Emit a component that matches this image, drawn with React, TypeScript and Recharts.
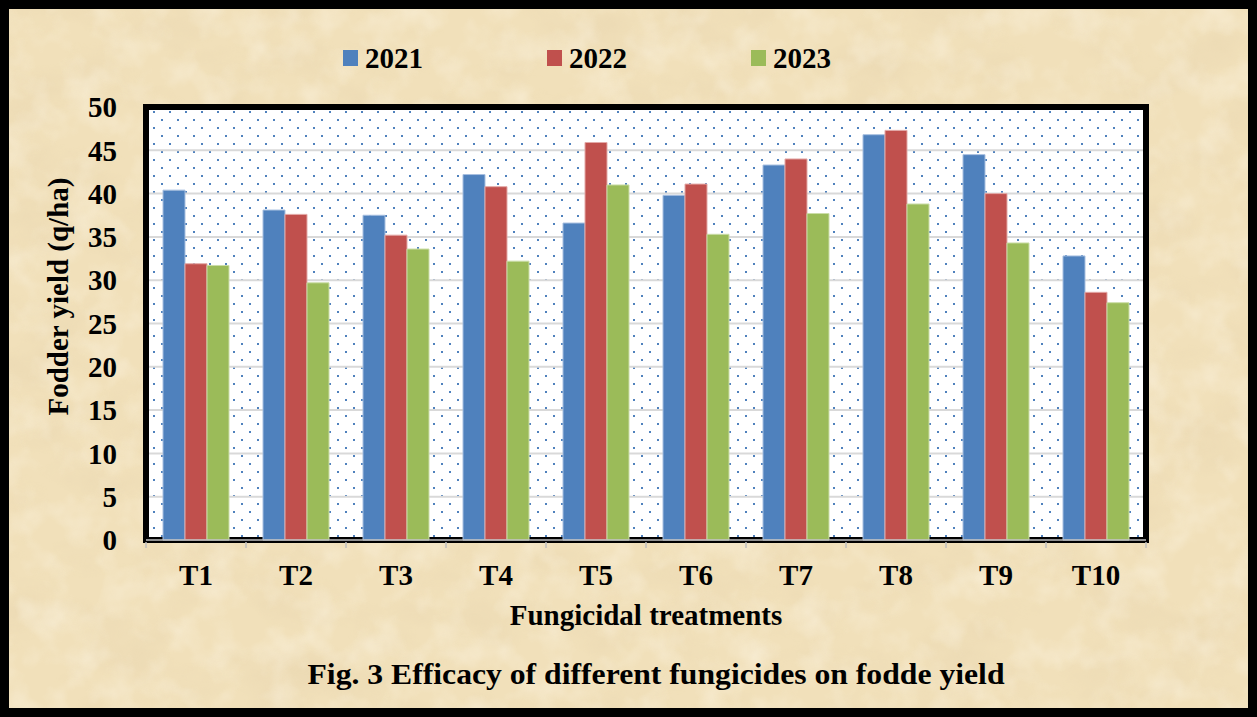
import React from 'react';
import { BarChart, Bar, XAxis, YAxis, CartesianGrid, ReferenceArea } from 'recharts';

const categories = ['T1', 'T2', 'T3', 'T4', 'T5', 'T6', 'T7', 'T8', 'T9', 'T10'];
const seriesNames = ['2021', '2022', '2023'];
const yield2021 = [40.4, 38.1, 37.5, 42.2, 36.6, 39.8, 43.3, 46.8, 44.5, 32.8];
const yield2022 = [31.9, 37.6, 35.2, 40.8, 45.9, 41.1, 44.0, 47.3, 40.0, 28.6];
const yield2023 = [31.7, 29.7, 33.6, 32.2, 41.0, 35.3, 37.7, 38.8, 34.3, 27.4];
const yTicks = [0, 5, 10, 15, 20, 25, 30, 35, 40, 45, 50];
const colors = ['#4F81BD', '#C0504D', '#9BBB59'];
const strokes = ['#A7BFE0', '#E3A9A7', '#CBDDA8'];
const yLabel = 'Fodder yield (q/ha)';
const xLabel = 'Fungicidal treatments';
const title = 'Fig. 3 Efficacy of different fungicides on fodde yield';

const seriesValues = [yield2021, yield2022, yield2023];
const data = categories.map((c, i) => {
  const row: Record<string, string | number> = { name: c };
  seriesNames.forEach((s, k) => {
    row[s] = seriesValues[k][i];
  });
  return row;
});

const FONT = "'Liberation Serif', 'Times New Roman', serif";

const XTick = (props: any) => {
  const { x, y, payload, index } = props;
  const off = payload?.offset ?? 50;
  return (
    <g>
      <line x1={x - off} x2={x - off} y1={y - 6} y2={y} stroke="#BFBFBF" strokeWidth={1.5} />
      {index === categories.length - 1 && (
        <line x1={x + off} x2={x + off} y1={y - 6} y2={y} stroke="#BFBFBF" strokeWidth={1.5} />
      )}
      <text x={x} y={y + 37} textAnchor="middle" fontFamily={FONT} fontWeight="bold" fontSize={29} fill="#000">
        {payload.value}
      </text>
    </g>
  );
};

export default function App() {
  return (
    <div style={{ position: 'absolute', left: 0, top: 0, width: 1257, height: 717, overflow: 'hidden', background: '#F1E0BA' }}>
      <svg width={1257} height={717} style={{ position: 'absolute', left: 0, top: 0 }}>
        <defs>
          <filter id="parchDark" x="0" y="0" width="100%" height="100%">
            <feTurbulence type="fractalNoise" baseFrequency="0.012 0.02" numOctaves={4} seed={7} />
            <feColorMatrix type="matrix" values="0 0 0 0 0.72  0 0 0 0 0.58  0 0 0 0 0.36  1.4 0 0 0 -0.62" />
          </filter>
          <filter id="parchLight" x="0" y="0" width="100%" height="100%">
            <feTurbulence type="fractalNoise" baseFrequency="0.03" numOctaves={3} seed={21} />
            <feColorMatrix type="matrix" values="0 0 0 0 1  0 0 0 0 0.96  0 0 0 0 0.86  1.4 0 0 0 -0.6" />
          </filter>
        </defs>
        <rect x={0} y={0} width={1257} height={717} fill="#F1E0BA" />
        <rect x={0} y={0} width={1257} height={717} filter="url(#parchDark)" opacity={0.35} />
        <rect x={0} y={0} width={1257} height={717} filter="url(#parchLight)" opacity={0.55} />
      </svg>

      <div style={{ position: 'absolute', left: 0, top: 0 }}>
        <BarChart
          width={1257}
          height={717}
          data={data}
          margin={{ top: 107, right: 111, bottom: 117, left: 86 }}
          barGap={0}
          barCategoryGap="17%"
        >
          <defs>
            <pattern id="dots" x={9} y={15} width={16} height={16} patternUnits="userSpaceOnUse">
              <rect x={0} y={0} width={16} height={16} fill="#FFFFFF" />
              <rect x={0} y={0} width={2} height={2} fill="#4F81BD" />
              <rect x={8} y={8} width={2} height={2} fill="#4F81BD" />
            </pattern>
          </defs>
          <CartesianGrid vertical={false} stroke="#D9D9D9" strokeWidth={2} fill="url(#dots)" fillOpacity={1} />
          <XAxis
            dataKey="name"
            height={60}
            axisLine={{ stroke: '#BFBFBF', strokeWidth: 1.5 }}
            tickLine={false}
            tickSize={6}
            tick={<XTick />}
            interval={0}
            label={{ value: xLabel, position: 'bottom', offset: 4, fontSize: 29, fontWeight: 'bold', fill: '#000', fontFamily: FONT }}
          />
          <YAxis
            domain={[0, 50]}
            ticks={yTicks}
            width={60}
            axisLine={false}
            tickLine={false}
            tickSize={0}
            tickMargin={29}
            interval={0}
            tick={{ fontSize: 29, fontWeight: 'bold', fill: '#000', fontFamily: FONT }}
            label={{
              content: (props: any) => {
                const vb = props.viewBox || { x: 86, y: 107, width: 60, height: 433 };
                const cx = vb.x - 18;
                const cy = vb.y + vb.height / 2 - 27;
                return (
                  <text
                    x={cx}
                    y={cy}
                    transform={`rotate(-90 ${cx} ${cy})`}
                    textAnchor="middle"
                    fontFamily={FONT}
                    fontWeight="bold"
                    fontSize={29}
                    fill="#000"
                  >
                    {yLabel}
                  </text>
                );
              },
            }}
          />
          <ReferenceArea y1={0} y2={50} fill="none" stroke="#000" strokeWidth={6} ifOverflow="visible" />
          {seriesNames.map((s, k) => (
            <Bar key={s} dataKey={s} fill={colors[k]} stroke={strokes[k]} strokeWidth={1} isAnimationActive={false} />
          ))}
        </BarChart>
      </div>

      <div style={{ position: 'absolute', left: 343, top: 36, display: 'flex', fontFamily: FONT, fontWeight: 'bold', fontSize: 29, color: '#000' }}>
        {seriesNames.map((s, k) => (
          <div key={s} style={{ width: 204, display: 'flex', alignItems: 'center', height: 44 }}>
            <div style={{ width: 15, height: 16, background: colors[k], marginRight: 7 }} />
            <span style={{ lineHeight: '44px' }}>{s}</span>
          </div>
        ))}
      </div>

      <svg width={1257} height={717} style={{ position: 'absolute', left: 0, top: 0, pointerEvents: 'none' }}>
        <text
          x={656}
          y={684}
          textAnchor="middle"
          fontFamily={FONT}
          fontWeight="bold"
          fontSize={30}
          fill="#000"
          textLength={697}
          lengthAdjust="spacingAndGlyphs"
        >
          {title}
        </text>
      </svg>

      <div style={{ position: 'absolute', left: 0, top: 0, width: 1257, height: 717, boxSizing: 'border-box', border: '9px solid #000', pointerEvents: 'none' }} />
    </div>
  );
}
